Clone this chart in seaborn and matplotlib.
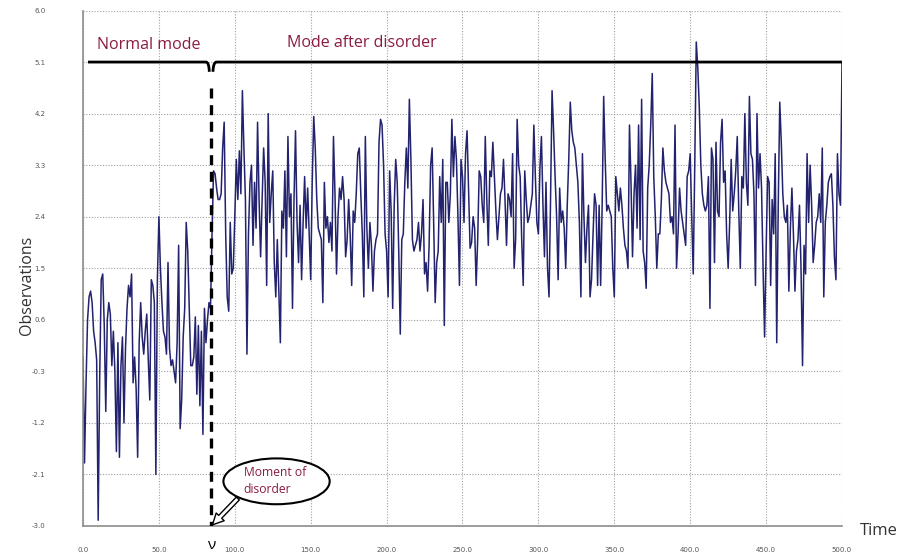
import numpy as np
import pandas as pd
import matplotlib
matplotlib.use("Agg")
import matplotlib.pyplot as plt
import seaborn as sns
from matplotlib.patches import Ellipse, FancyArrowPatch, PathPatch
from matplotlib.path import Path

# ---------------- data ----------------
obs_normal = [
    -0.05, -1.9, -0.5, 0.6, 1.0, 1.1, 0.9, 0.4, 0.2, -0.1,
    -2.9, -0.4, 1.3, 1.4, 0.5, -1.0, 0.6, 0.9, 0.7, -0.2,
    0.4, -0.3, -1.7, 0.2, -1.8, -0.2, 0.3, -1.2, 0.1, 0.8,
    1.2, 1.0, 1.4, -0.5, -0.05, -0.6, -1.8, 0.2, 0.9, 0.3,
    0.0, 0.4, 0.7, -0.1, -0.8, 1.3, 1.2, 0.9, -2.1, 1.3,
    2.4, 1.5, 0.9, 0.4, 0.3, 0.0, 1.6, 0.1, -0.2, -0.1,
    -0.3, -0.5, 0.2, 1.9, -1.3, -0.8, 0.3, 0.8, 2.3, 1.8,
    0.8, -0.2, -0.2, -0.05, 0.65, -0.7, 0.5, -0.9, 0.4, -1.4,
    0.8, 0.2, 0.6, 0.9,
]
obs_after_a = [
    0.8, 2.1, 3.2, 3.15, 2.9, 2.7, 2.7, 2.8, 3.6, 4.05,
    2.1, 1.0, 0.75, 2.3, 1.4, 1.5, 2.4, 3.4, 2.7, 3.55,
    2.8, 4.6, 3.6, 2.7, 0.0, 2.1, 3.0, 3.3, 1.9, 3.0,
    2.2, 4.05, 2.7, 1.7, 2.7, 3.6, 3.0, 1.2, 4.2, 2.3,
    2.8, 3.2, 1.6, 1.0, 2.0, 1.1, 0.2, 2.5, 2.2, 3.2,
    1.7, 3.8, 2.4, 2.8, 0.8, 2.7, 3.9, 2.3, 1.6, 2.6,
    1.3, 2.3, 3.1, 2.2, 2.9, 2.1, 1.3, 3.0, 4.15,
]
obs_after_b = [
    3.6, 2.7, 2.2, 2.1, 2.0, 0.9, 3.0, 2.2, 2.4, 1.95,
    2.3, 1.8, 3.8, 2.8, 1.4, 2.4, 2.9, 2.7, 3.1, 2.7,
    1.7, 2.0, 2.7, 2.1, 1.2, 2.5, 2.3, 2.8, 3.5, 3.6,
    2.8, 2.1, 1.0, 3.8, 2.2, 1.5, 2.3, 1.9, 1.1, 1.8,
    2.0, 2.1, 3.7, 4.1, 4.0, 3.3, 2.1, 1.8, 1.0, 3.2,
    2.5, 0.8, 2.6, 3.4, 3.0, 1.8, 0.35, 2.0, 2.1, 3.0,
    3.6, 2.9, 4.45, 3.4, 2.0, 1.8, 1.9, 2.0,
]
obs_after_c = [
    2.3, 1.8, 2.1, 2.7, 1.4, 1.6, 1.1, 1.9, 3.3, 3.6,
    2.3, 0.9, 1.6, 1.8, 3.1, 2.3, 3.4, 0.5, 3.0, 3.0,
    2.3, 2.8, 4.1, 3.1, 3.8, 3.4, 2.4, 1.2, 3.4, 3.1,
    2.3, 3.5, 3.9, 2.9, 1.85, 1.95, 2.4, 2.2, 1.2, 2.0,
    3.2, 3.1, 2.6, 2.3, 3.8, 2.7, 1.9, 3.2, 3.1, 3.7,
    3.1, 2.5, 2.0, 2.4, 2.8, 2.9, 3.4, 2.7, 1.9, 2.8,
    2.7, 2.4, 3.5, 1.5, 2.0, 4.1, 3.3, 3.1, 2.0, 1.2,
]
obs_after_d = [
    3.2, 2.7, 2.3, 2.4, 2.6, 2.8, 4.0, 3.1, 2.3, 2.1,
    3.25, 3.8, 2.6, 1.7, 3.0, 1.5, 1.0, 2.7, 4.6, 3.9,
    3.1, 2.4, 1.3, 2.9, 2.3, 2.5, 2.2, 1.5, 2.6, 3.4,
    4.4, 3.9, 3.7, 3.6, 3.3, 3.0, 2.3, 1.0, 3.5, 2.4,
    1.6, 2.2, 2.6, 1.0, 1.3, 2.1, 2.8, 2.6, 1.2, 2.6,
    1.2, 2.6, 4.5, 3.4, 2.5, 2.6, 2.5, 2.4, 1.5, 1.0,
    3.1, 2.8, 2.5, 2.9, 2.6, 2.2, 1.9, 1.8, 1.5,
]
obs_after_e = [
    4.0, 3.0, 1.7, 2.8, 3.3, 2.2, 4.0, 2.0, 4.45, 1.8,
    1.6, 1.15, 2.9, 3.3, 4.0, 4.9, 3.1, 2.4, 1.5, 2.1,
    2.1, 2.7, 3.6, 3.2, 3.0, 2.9, 2.8, 2.3, 2.4, 2.1,
    4.0, 1.5, 2.1, 2.9, 2.5, 2.3, 2.1, 1.9, 3.1, 3.2,
    3.5, 2.4, 1.4, 3.3, 5.45, 5.0, 4.3, 3.3, 2.8, 2.6,
    2.5, 2.6, 3.1, 0.8, 3.6, 3.4, 1.6, 3.7, 2.5, 2.4,
    3.7, 4.1, 3.0, 3.2, 2.1, 1.5, 2.3, 3.4, 2.5,
]
obs_after_f = [
    2.8, 3.2, 3.8, 2.5, 1.5, 3.1, 2.9, 4.2, 3.0, 2.6,
    4.5, 3.5, 3.4, 2.8, 1.2, 4.2, 2.9, 3.5, 2.9, 1.5,
    0.3, 1.8, 3.1, 3.0, 1.2, 2.7, 2.1, 3.5, 0.2, 2.6,
    4.4, 3.7, 2.8, 2.4, 2.3, 2.6, 1.1, 2.2, 2.9, 2.1,
    1.1, 1.8, 2.0, 2.6, 1.5, -0.2, 1.9, 1.4, 3.5, 2.3,
    3.3, 2.6, 1.6, 1.9, 2.3, 2.4, 2.8, 2.3, 3.6, 1.0,
    2.3, 2.6, 3.0, 3.1, 3.15, 2.6, 1.7, 1.3, 3.5, 2.8,
    2.6, 5.1,
]

disorder_time = 84.5
bracket_level = 5.1
y_ticks = [-3.0, -2.1, -1.2, -0.3, 0.6, 1.5, 2.4, 3.3, 4.2, 5.1, 6.0]
x_ticks = [0, 50, 100, 150, 200, 250, 300, 350, 400, 450, 500]

observations = obs_normal + obs_after_a + obs_after_b + obs_after_c + obs_after_d + obs_after_e + obs_after_f
time = np.arange(len(observations))
df = pd.DataFrame({"Time": time, "Observations": observations})

# ---------------- style ----------------
sns.set_style("white")
plt.rcParams["font.family"] = ["DejaVu Sans"]
ann_font = ["Open Sans", "DejaVu Sans"]
dark_red = "#8b1c40"

fig = plt.figure(figsize=(9.01, 5.57), dpi=100)
ax = fig.add_axes([83 / 901, 1 - 526 / 557, (842 - 83) / 901, (526 - 10.5) / 557])

sns.lineplot(data=df, x="Time", y="Observations", ax=ax, color="#22226e",
             linewidth=1.1, estimator=None, sort=False, zorder=3)

ax.set_xlim(0, 500)
ax.set_ylim(-3.0, 6.0)
ax.set_xticks(x_ticks)
ax.set_xticklabels([f"{v:.1f}" for v in x_ticks])
ax.set_yticks(y_ticks)
ax.set_yticklabels([f"{v:.1f}" for v in y_ticks])
ax.tick_params(axis="both", length=0, labelsize=5, labelcolor="#555555")
ax.tick_params(axis="x", pad=15)
ax.tick_params(axis="y", pad=27)
ax.set_xlabel("")
ax.set_ylabel("")
ax.grid(True, linestyle=(0, (1, 1.5)), color="#a0a0a0", linewidth=0.8)
ax.set_axisbelow(True)
for side in ["top", "right"]:
    ax.spines[side].set_visible(False)
for side in ["left", "bottom"]:
    ax.spines[side].set_color("#8c8c8c")
    ax.spines[side].set_linewidth(1.2)
    ax.spines[side].set_zorder(4)

# bracket lines (normal mode | after disorder)
dip = bracket_level - 0.17
left_path = Path([(3.3, bracket_level), (81.0, bracket_level), (83.0, bracket_level), (83.2, dip)],
                 [Path.MOVETO, Path.LINETO, Path.CURVE3, Path.CURVE3])
right_path = Path([(85.6, dip), (85.8, bracket_level), (88.0, bracket_level), (500, bracket_level)],
                  [Path.MOVETO, Path.CURVE3, Path.CURVE3, Path.LINETO])
for p in (left_path, right_path):
    ax.add_patch(PathPatch(p, fill=False, edgecolor="black", linewidth=2.0, zorder=5,
                           capstyle="butt", clip_on=False))

# dashed disorder line
ax.plot([disorder_time, disorder_time], [4.64, -3.0], color="black", linewidth=2.4,
        linestyle=(0, (3, 2)), zorder=6, solid_capstyle="butt", dash_capstyle="butt")

ax.text(9.2, 5.40, "Normal mode", color=dark_red, fontsize=11.5, family=ann_font,
        ha="left", va="center", zorder=7)
ax.text(134.4, 5.43, "Mode after disorder", color=dark_red, fontsize=11.5, family=ann_font,
        ha="left", va="center", zorder=7)

# nu symbol below the axis
ax.text(disorder_time, -3.34, "ν", color="black", fontsize=11, family=ann_font,
        ha="center", va="center", clip_on=False)

# callout
ell = Ellipse((127.5, -2.22), width=70.0, height=0.80, facecolor="white",
              edgecolor="black", linewidth=1.5, zorder=8)
ax.add_patch(ell)
ax.text(105.8, -2.21, "Moment of\ndisorder", color=dark_red, fontsize=8.7, family=ann_font,
        ha="left", va="center", linespacing=1.35, zorder=9)
arrow = FancyArrowPatch((102.0, -2.52), (85.3, -2.98),
                        arrowstyle="simple,head_length=8,head_width=8,tail_width=3",
                        mutation_scale=1, facecolor="white", edgecolor="black",
                        linewidth=1.0, zorder=9, shrinkA=0, shrinkB=0)
ax.add_patch(arrow)

# axis titles
fig.text(27 / 901, 1 - 285 / 557, "Observations", rotation=90, fontsize=11.5,
         family=ann_font, color="#333333", ha="center", va="center")
fig.text(860 / 901, 1 - 531 / 557, "Time", fontsize=12, family=ann_font,
         color="#333333", ha="left", va="center")

fig.savefig("out.png", dpi=100)
